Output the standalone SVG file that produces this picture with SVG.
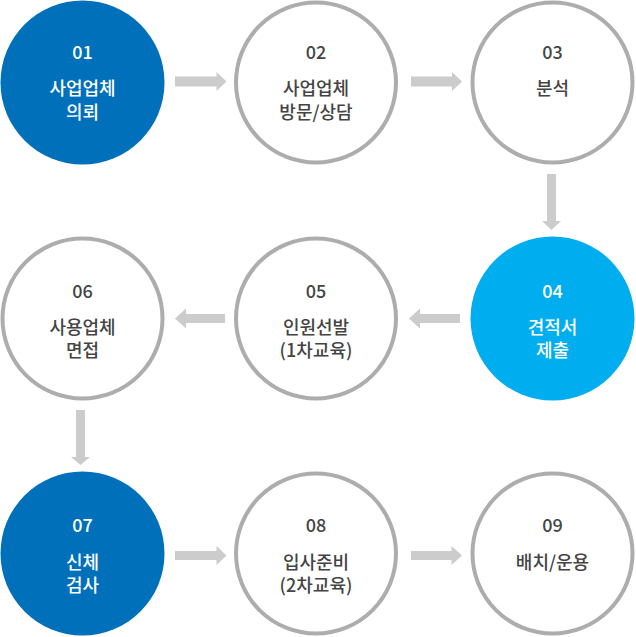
<svg xmlns="http://www.w3.org/2000/svg" width="636" height="637" viewBox="0 0 636 637">
<style>
.c{fill:#fff;stroke:#adadad;stroke-width:4}
.d{fill:#0070bb}
.l{fill:#00aeef}
text{font-family:"Noto Sans CJK KR","Noto Sans",sans-serif;font-size:18px;font-weight:500;text-anchor:middle}
.w{fill:#fff}
.g{fill:#444}
.a{fill:#cccccc}
</style>
<rect width="636" height="637" fill="#fff"/>
<g id="connectors">
<polygon class="a" points="175,76.5 216.5,76.5 216.5,72 226.5,81.5 216.5,91 216.5,86.5 175,86.5"/>
<polygon class="a" points="411,76.5 452,76.5 452,72 462,81.5 452,91 452,86.5 411,86.5"/>
<polygon class="a" points="547,174 556,174 556,221 561,221 551.5,230 542,221 547,221"/>
<polygon class="a" points="460,314 420,314 420,308.5 409,318.5 420,328.5 420,323 460,323"/>
<polygon class="a" points="225,314 186,314 186,308.5 175,318.5 186,328.5 186,323 225,323"/>
<polygon class="a" points="76,410 85,410 85,457 90,457 80.5,465 71,457 76,457"/>
<polygon class="a" points="175,551 216.5,551 216.5,546 226.5,555.5 216.5,565 216.5,560 175,560"/>
<polygon class="a" points="411,551 451.5,551 451.5,546 462,555.5 451.5,565 451.5,560 411,560"/>
</g>
<g id="n01">
<circle class="d" cx="82.5" cy="82.5" r="82"/>
<text class="w" x="82.5" y="58.5">01</text>
<text class="w" x="82.5" y="95">사업업체</text>
<text class="w" x="82.5" y="118.5">의뢰</text>
</g>
<g id="n02">
<circle class="c" cx="316" cy="82.5" r="80"/>
<text class="g" x="316" y="58.5">02</text>
<text class="g" x="316" y="95">사업업체</text>
<text class="g" x="316" y="118.5">방문/상담</text>
</g>
<g id="n03">
<circle class="c" cx="552.5" cy="82.5" r="80"/>
<text class="g" x="552.5" y="58.5">03</text>
<text class="g" x="552.5" y="95">분석</text>
</g>
<g id="n04">
<circle class="l" cx="552.5" cy="318.5" r="82"/>
<text class="w" x="552.5" y="297.5">04</text>
<text class="w" x="552.5" y="333.5">견적서</text>
<text class="w" x="552.5" y="357">제출</text>
</g>
<g id="n05">
<circle class="c" cx="316" cy="318.5" r="80"/>
<text class="g" x="316" y="297.5">05</text>
<text class="g" x="316" y="333.5">인원선발</text>
<text class="g" x="316" y="357">(1차교육)</text>
</g>
<g id="n06">
<circle class="c" cx="82.5" cy="318.5" r="80"/>
<text class="g" x="82.5" y="297.5">06</text>
<text class="g" x="82.5" y="333.5">사용업체</text>
<text class="g" x="82.5" y="357">면접</text>
</g>
<g id="n07">
<circle class="d" cx="82.5" cy="553.5" r="82"/>
<text class="w" x="82.5" y="531.5">07</text>
<text class="w" x="82.5" y="568.5">신체</text>
<text class="w" x="82.5" y="592">검사</text>
</g>
<g id="n08">
<circle class="c" cx="316" cy="553.5" r="80"/>
<text class="g" x="316" y="531.5">08</text>
<text class="g" x="316" y="568.5">입사준비</text>
<text class="g" x="316" y="592">(2차교육)</text>
</g>
<g id="n09">
<circle class="c" cx="552.5" cy="553.5" r="80"/>
<text class="g" x="552.5" y="531.5">09</text>
<text class="g" x="552.5" y="568.5">배치/운용</text>
</g>
</svg>
